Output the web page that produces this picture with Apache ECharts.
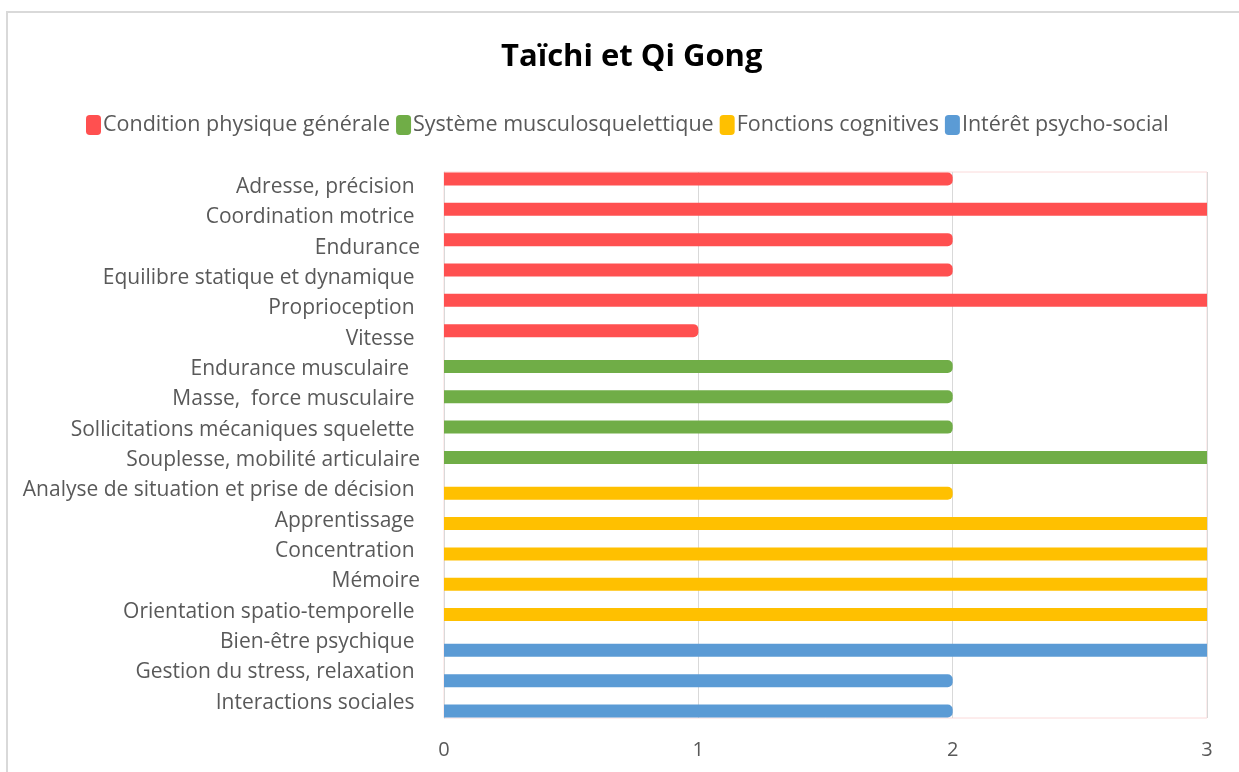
<!DOCTYPE html>
<html>
<head>
<meta charset="utf-8">
<script src="https://cdn.jsdelivr.net/npm/echarts@6/dist/echarts.min.js"></script>
<style>
  html, body { margin: 0; padding: 0; background: #fff; }
  #chart { width: 1239px; height: 772px; }
</style>
</head>
<body>
<div id="chart"></div>
<script>
// categories, top to bottom (trailing spaces kept as in the source sheet)
var categories = [
  'Adresse, précision ', 'Coordination motrice ', 'Endurance', 'Equilibre statique et dynamique ',
  'Proprioception ', 'Vitesse ', 'Endurance musculaire  ', 'Masse,  force musculaire ',
  'Sollicitations mécaniques squelette ', 'Souplesse, mobilité articulaire',
  'Analyse de situation et prise de décision ', 'Apprentissage ', 'Concentration ', 'Mémoire',
  'Orientation spatio-temporelle ', 'Bien-être psychique ', 'Gestion du stress, relaxation ',
  'Interactions sociales '
];
var seriesNames = ['Condition physique générale', 'Système musculosquelettique', 'Fonctions cognitives', 'Intérêt psycho-social'];
var colors = ['#ff5050', '#70ad47', '#ffc000', '#5b9bd5'];

var condition = [2, 3, 2, 2, 3, 1, null, null, null, null, null, null, null, null, null, null, null, null];
var musculo   = [null, null, null, null, null, null, 2, 2, 2, 3, null, null, null, null, null, null, null, null];
var cognitif  = [null, null, null, null, null, null, null, null, null, null, 2, 3, 3, 3, 3, null, null, null];
var psycho    = [null, null, null, null, null, null, null, null, null, null, null, null, null, null, null, 3, 2, 2];
var xTicks = [0, 1, 2, 3];

var txt = '#595959';
var font = 'Open Sans';
var Chart = echarts.init(document.getElementById('chart'));

// barres pleines (valeur max) : pas d'arrondi, coupées par la zone de tracé
function toItems(arr) {
  return arr.map(function (v) {
    if (v === null) return '-';
    return { value: v, itemStyle: { borderRadius: v >= 3 ? 0 : [0, 5, 5, 0] } };
  });
}

var allData = [condition, musculo, cognitif, psycho];
var series = allData.map(function (arr, i) {
  return {
    name: seriesNames[i],
    type: 'bar',
    data: toItems(arr),
    barWidth: 13,
    barGap: '-58%',
    itemStyle: { color: colors[i] },
    clip: true
  };
});

var option = {
  backgroundColor: '#fff',
  animation: false,
  color: colors,
  title: {
    text: 'Taïchi et Qi Gong',
    left: 496,
    top: 37,
    textStyle: { fontFamily: font, fontSize: 31, fontWeight: 'bold', color: '#000' }
  },
  legend: {
    top: 109,
    left: 81,
    itemWidth: 15,
    itemHeight: 20,
    itemGap: 6,
    icon: 'roundRect',
    data: seriesNames,
    textStyle: { fontFamily: font, fontSize: 21.5, color: txt, padding: [0, 0, 0, -3] }
  },
  graphic: [{
    type: 'rect',
    shape: { x: 7, y: 12, width: 1300, height: 800 },
    style: { fill: 'none', stroke: '#d9d9d9', lineWidth: 2 },
    silent: true,
    z: -10
  }],
  grid: {
    left: 444,
    right: 32,
    top: 172,
    bottom: 54,
    show: true,
    borderColor: '#fbdada',
    borderWidth: 1
  },
  xAxis: {
    type: 'value',
    min: 0,
    max: 3,
    interval: 1,
    axisLine: { show: false },
    axisTick: { show: false },
    splitLine: { lineStyle: { color: '#d9d9d9', width: 1 } },
    axisLabel: {
      margin: 22,
      fontFamily: font, fontSize: 20, color: txt,
      formatter: function (v) { return xTicks.indexOf(v) >= 0 ? String(v) : ''; }
    }
  },
  yAxis: {
    type: 'category',
    data: categories,
    inverse: true,
    axisLine: { show: true, lineStyle: { color: '#d9d9d9' } },
    axisTick: { show: false },
    axisLabel: {
      margin: 24,
      fontFamily: font, fontSize: 21, color: txt
    }
  },
  series: series
};
Chart.setOption(option);
</script>
</body>
</html>
